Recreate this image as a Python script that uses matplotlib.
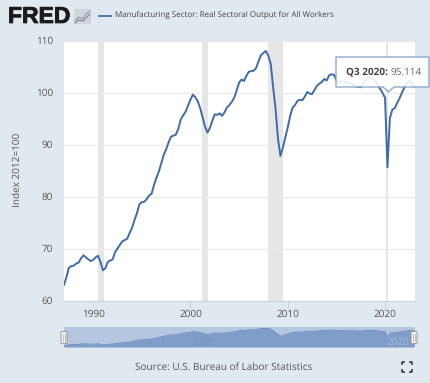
import matplotlib
matplotlib.use("Agg")
import matplotlib.pyplot as plt
import matplotlib.patheffects as pe
from matplotlib.patches import FancyBboxPatch, Polygon, Rectangle
import numpy as np

# quarterly index values, 1987 Q1 to 2023 Q1
output = [63.0, 64.5, 66.3, 66.6,
          66.7, 67.1, 67.3, 68.1,
          68.7, 68.3, 67.9, 67.6,
          67.8, 68.3, 68.6, 67.4,
          65.8, 66.2, 67.4, 67.7,
          67.9, 69.3, 70.0, 70.7,
          71.4, 71.6, 71.9, 73.0,
          74.0, 75.5, 76.8, 78.5,
          78.9, 79.0, 79.5, 80.2,
          80.5, 82.2, 83.6, 84.8,
          86.4, 88.0, 89.1, 90.4,
          91.5, 91.7, 91.9, 93.0,
          94.8, 95.6, 96.3, 97.5,
          98.6, 99.6, 99.1, 98.3,
          97.0, 95.2, 93.4, 92.3,
          93.2, 94.6, 95.8, 95.7,
          96.0, 95.5, 96.2, 97.1,
          97.6, 98.2, 99.0, 100.4,
          101.9, 102.5, 102.2, 103.2,
          104.0, 104.1, 104.2, 104.7,
          106.0, 107.2, 107.6, 108.0,
          107.1, 105.5, 101.0, 96.8,
          91.0, 87.8, 89.4, 91.4,
          93.3, 95.5, 97.1, 97.6,
          98.4, 98.6, 98.5, 99.2,
          100.1, 99.8, 99.7, 100.5,
          101.3, 101.7, 102.0, 102.6,
          102.3, 103.3, 103.5, 103.4,
          102.4, 101.8, 102.2, 102.1,
          102.0, 101.8, 101.7, 101.5,
          101.2, 101.1, 101.0, 102.0,
          102.3, 102.8, 102.9, 102.6,
          102.3, 101.4, 100.7, 99.9,
          99.0, 85.6, 95.1, 96.7,
          97.0, 98.0, 98.9, 100.0,
          101.0, 101.9, 102.2, 101.7,
          101.2]
start_year = 1987
recessions = [(1990.5, 1991.15), (2001.2, 2001.85), (2007.98, 2009.48), (2020.05, 2020.3)]
x_ticks = [1990, 2000, 2010, 2020]
y_ticks = [60, 70, 80, 90, 100, 110]

series_name = "Manufacturing Sector: Real Sectoral Output for All Workers"
y_label = "Index 2012=100"
source = "Source: U.S. Bureau of Labor Statistics"

W, H = 430, 383
BG = "#e1e9f0"
BLUE = "#3f6ca8"
TEXT = "#555555"
plt.rcParams["font.family"] = ["Open Sans", "DejaVu Sans"]
plt.rcParams["text.hinting"] = "no_hinting"
plt.rcParams["text.hinting_factor"] = 1

dates = start_year + np.arange(len(output)) / 4

fig = plt.figure(figsize=(W / 100, H / 100), dpi=100, facecolor=BG)


def px_axes(left, top, right, bottom):
    return fig.add_axes([left / W, 1 - bottom / H, (right - left) / W, (bottom - top) / H])


# main chart
ax = px_axes(64, 40.5, 414.5, 300.5)
ax.plot(dates, output, color=BLUE, lw=1.4, zorder=3)
for a, b in recessions:
    ax.axvspan(a, b, color="#e6e6e6", lw=0, zorder=1)
ax.set_xlim(1987, 2023.03)
ax.set_ylim(60, 110)
ax.set_xticks(x_ticks)
ax.set_yticks(y_ticks)
ax.grid(axis="y", color="#e9e9e9", lw=0.9, zorder=2)
ax.set_axisbelow(False)
ax.tick_params(axis="y", length=0, pad=8, labelsize=6.9, labelcolor=TEXT)
ax.tick_params(axis="x", length=5, width=0.7, color="#c5d3e0", pad=1.5, labelsize=6.9, labelcolor=TEXT)
for side in ["top", "left", "right"]:
    ax.spines[side].set_visible(False)
ax.spines["bottom"].set_color("#c5d3e0")
ax.spines["bottom"].set_linewidth(0.7)

# navigator under the chart
nav = px_axes(64, 327, 414.5, 347)
nav.set_facecolor("#b4c6e0")
nav.fill_between(dates, 60.5, output, color="#7f9dc9", lw=0)
nav.plot(dates, output, color="#6f8fc0", lw=0.7)
nav.set_xlim(1987, 2023.03)
nav.set_ylim(60.5, 111.4)
nav.set_xticks([])
nav.set_yticks([])
for s in nav.spines.values():
    s.set_visible(False)
nav.text(2001.3, 72, "2000", color="#7592bd", fontsize=6.9, ha="center", va="center")
nav.text(2021.3, 72, "2020", color="#a3b8d6", fontsize=6.9, ha="center", va="center")

# everything else is placed in pixels on a full-size overlay
ov = fig.add_axes([0, 0, 1, 1], zorder=10)
ov.set_xlim(0, W)
ov.set_ylim(H, 0)
ov.axis("off")

ov.text(8, 17, "FRED", family="Liberation Sans", weight="bold", fontsize=16.5, color="#1b1b1b",
        va="center", ha="left", path_effects=[pe.withStroke(linewidth=0.6, foreground="#1b1b1b")])
ov.add_patch(Rectangle((74, 9), 17, 15, color="#cfd5db", lw=0))
ov.plot([75, 79, 83, 86, 90], [21, 17, 19, 14, 11], color="#7d95b8", lw=0.7)
ov.plot([75, 79, 83, 86, 90], [23, 20, 21, 18, 14], color="#808080", lw=0.7)
ov.plot([99, 111], [15.5, 15.5], color=BLUE, lw=1.3)
ov.text(115, 15, series_name, fontsize=5.9, color="#444444", va="center", ha="left")
ov.text(17, 170, y_label, rotation=90, fontsize=6.9, color=TEXT, va="center", ha="center")
ov.text(224, 367, source, fontsize=7.0, color=TEXT, va="center", ha="center")

# navigator handles
for hx in [64, 414]:
    ov.add_patch(FancyBboxPatch((hx - 2.5, 332), 5, 11, boxstyle="round,pad=0.5", fc="#f2f2f2",
                                ec="#999999", lw=0.7))
    ov.plot([hx - 0.8, hx - 0.8], [334, 341], color="#aaaaaa", lw=0.5)
    ov.plot([hx + 0.8, hx + 0.8], [334, 341], color="#aaaaaa", lw=0.5)

# fullscreen icon
for cx, cy, dx, dy in [(402, 362, 1, 1), (412, 362, -1, 1), (402, 372, 1, -1), (412, 372, -1, -1)]:
    ov.plot([cx + 3 * dx, cx, cx], [cy, cy, cy + 3 * dy], color="#333333", lw=1.1, solid_capstyle="butt")

# tooltip
tip = Polygon([(336, 57), (429, 57), (429, 87), (394, 87), (388.5, 92), (383, 87), (336, 87)],
              closed=True, fc="white", ec="#7f9cc6", lw=1.0, alpha=0.88, joinstyle="round")
ov.add_patch(tip)
t = ov.text(346, 72, "Q3 2020:", weight="bold", fontsize=6.9, color="#444444", va="center", ha="left")
fig.canvas.draw()
bb = t.get_window_extent()
ov.text(bb.x1 + 3, 72, "95.114", fontsize=6.9, color="#666666", va="center", ha="left")

fig.savefig("out.png", dpi=100, facecolor=BG)
